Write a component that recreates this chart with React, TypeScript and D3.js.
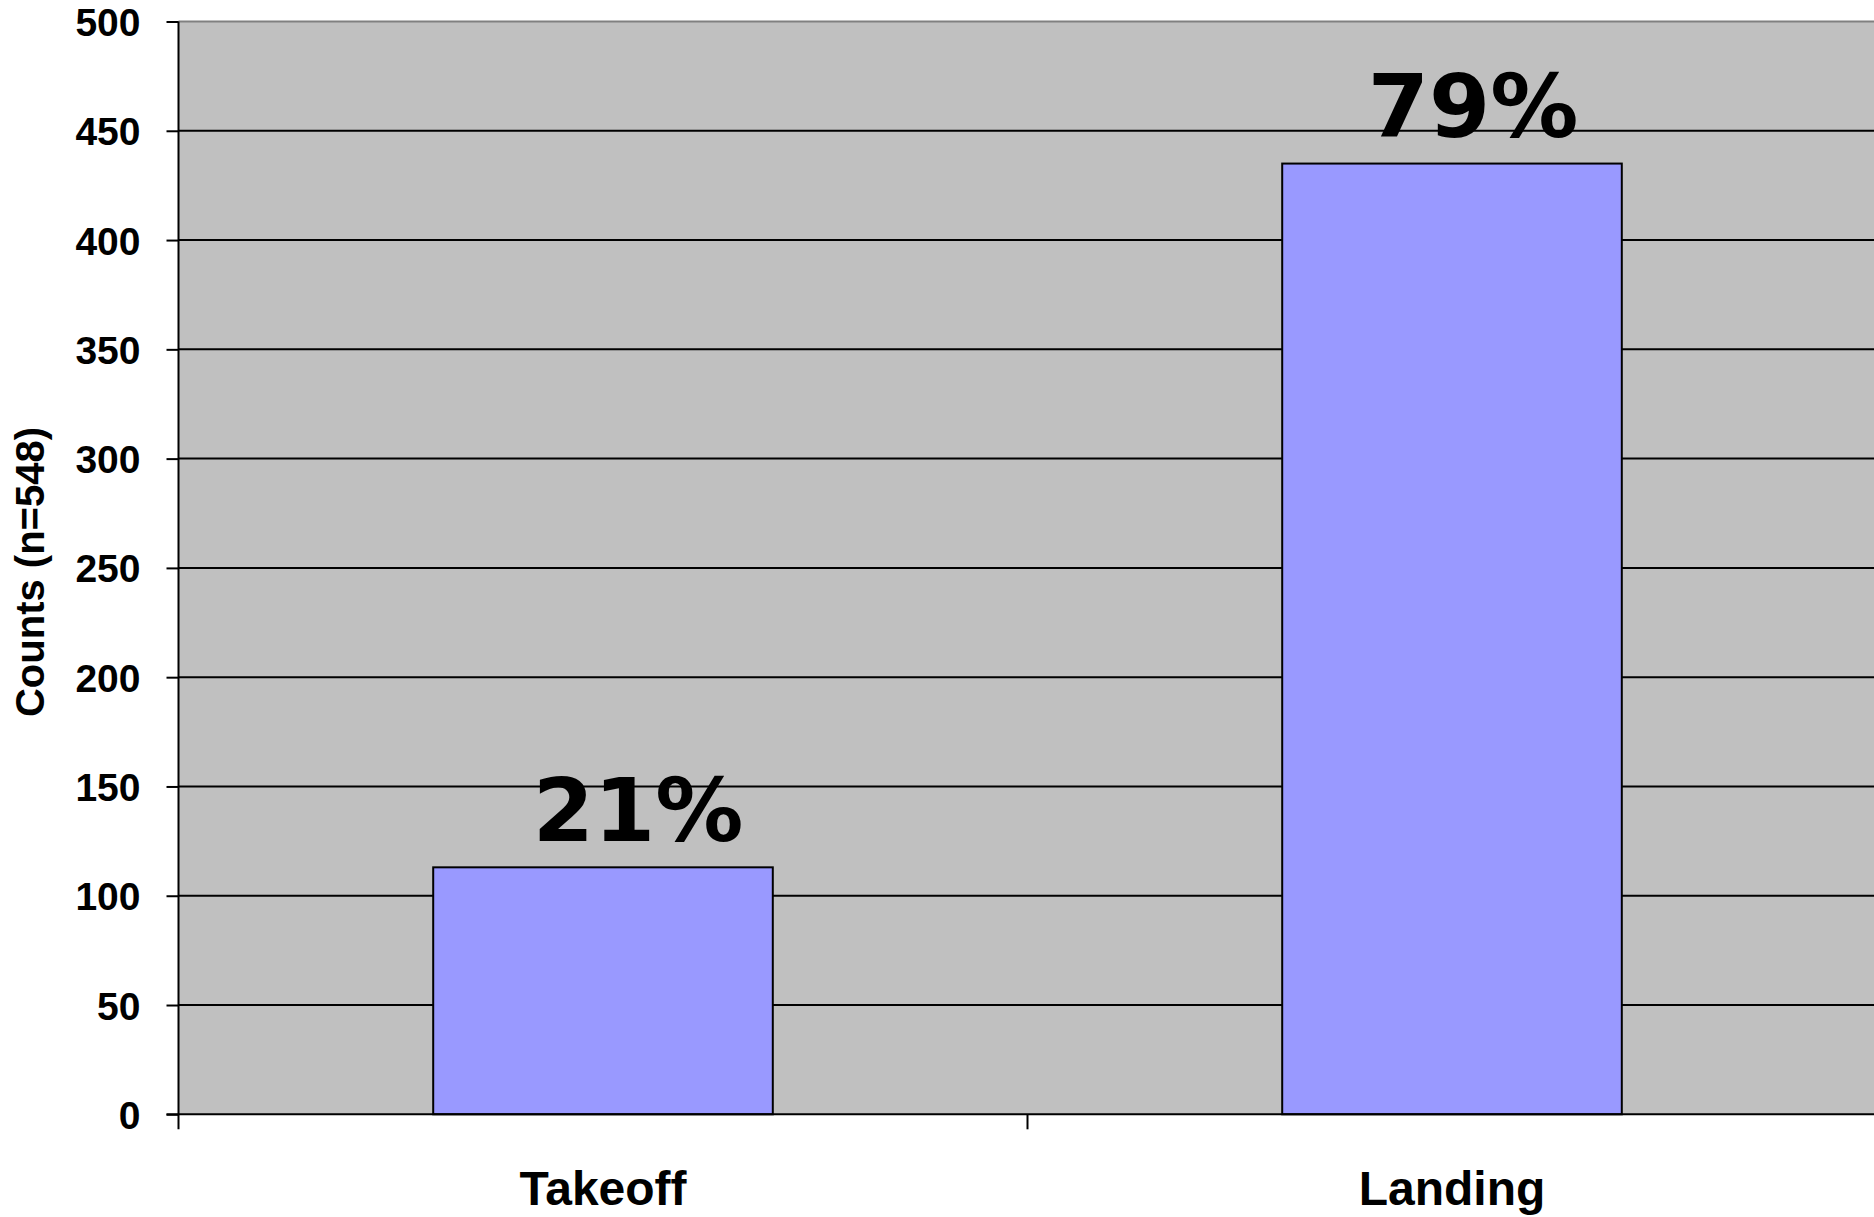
import { useEffect, useRef } from 'react';
import * as d3 from 'd3';

const categories = ['Takeoff', 'Landing'];
const counts = [113, 435];
const percentLabels = ['21%', '79%'];
const yTicks = [0, 50, 100, 150, 200, 250, 300, 350, 400, 450, 500];
const yTitle = 'Counts (n=548)';

const App = () => {
  const svgRef = useRef<SVGSVGElement | null>(null);

  const width = 1874;
  const height = 1217;
  const marginTop = 21.5;
  const marginLeft = 178.5;
  const plotBottom = 1114.3;
  const bandWidth = 849;

  useEffect(() => {
    const svgElement = svgRef.current;
    if (!svgElement) return;

    const svg = d3.select(svgElement);
    svg.selectAll('*').remove();

    const x = d3.scaleBand<string>()
      .domain(categories)
      .range([marginLeft, marginLeft + bandWidth * categories.length])
      .paddingInner(0.6)
      .paddingOuter(0.3);

    const y = d3.scaleLinear().domain([0, 500]).range([plotBottom, marginTop]);
    const plotRight = marginLeft + bandWidth * categories.length;

    // plot background
    svg.append('rect')
      .attr('x', marginLeft)
      .attr('y', marginTop)
      .attr('width', plotRight - marginLeft)
      .attr('height', plotBottom - marginTop)
      .attr('fill', '#c0c0c0');

    // top border
    svg.append('line')
      .attr('x1', marginLeft).attr('x2', plotRight)
      .attr('y1', marginTop).attr('y2', marginTop)
      .attr('stroke', '#808080').attr('stroke-width', 2);

    // gridlines
    svg.append('g')
      .selectAll('line')
      .data(yTicks.filter(d => d > 0 && d < 500))
      .join('line')
      .attr('x1', marginLeft).attr('x2', plotRight)
      .attr('y1', d => y(d)).attr('y2', d => y(d))
      .attr('stroke', '#000').attr('stroke-width', 2);

    // bars
    svg.append('g')
      .selectAll('rect')
      .data(categories)
      .join('rect')
      .attr('x', d => x(d) ?? 0)
      .attr('y', (_, i) => y(counts[i]))
      .attr('width', x.bandwidth())
      .attr('height', (_, i) => plotBottom - y(counts[i]))
      .attr('fill', '#9999ff')
      .attr('stroke', '#000')
      .attr('stroke-width', 2);

    // percent labels
    const labelDx = [35, 21];
    svg.append('g')
      .selectAll('text')
      .data(percentLabels)
      .join('text')
      .attr('x', (_, i) => (x(categories[i]) ?? 0) + x.bandwidth() / 2 + labelDx[i])
      .attr('y', (_, i) => y(counts[i]) - 26.5)
      .attr('text-anchor', 'middle')
      .attr('font-family', "Verdana, 'DejaVu Sans', sans-serif")
      .attr('font-weight', 'bold')
      .attr('font-size', 88)
      .attr('fill', '#000')
      .text(d => d);

    // y axis
    const yAxis = svg.append('g')
      .attr('transform', `translate(${marginLeft},0)`)
      .call(d3.axisLeft(y).tickValues(yTicks).tickSize(12).tickPadding(26).tickFormat(d3.format('d')));
    yAxis.select('.domain').remove();
    yAxis.selectAll('line').attr('stroke', '#000').attr('stroke-width', 2);
    yAxis.selectAll('text')
      .attr('font-family', "Arial, 'Liberation Sans', sans-serif")
      .attr('font-weight', 'bold')
      .attr('font-size', 39)
      .attr('fill', '#000')
      .attr('dy', '0.36em');

    svg.append('line')
      .attr('x1', marginLeft).attr('x2', marginLeft)
      .attr('y1', marginTop).attr('y2', plotBottom + 15)
      .attr('stroke', '#000').attr('stroke-width', 2);

    // x axis
    svg.append('line')
      .attr('x1', marginLeft - 12).attr('x2', plotRight)
      .attr('y1', plotBottom).attr('y2', plotBottom)
      .attr('stroke', '#000').attr('stroke-width', 2);

    svg.append('g')
      .selectAll('line')
      .data(d3.range(1, categories.length))
      .join('line')
      .attr('x1', i => marginLeft + bandWidth * i)
      .attr('x2', i => marginLeft + bandWidth * i)
      .attr('y1', plotBottom).attr('y2', plotBottom + 15)
      .attr('stroke', '#000').attr('stroke-width', 2);

    svg.append('g')
      .selectAll('text')
      .data(categories)
      .join('text')
      .attr('x', d => (x(d) ?? 0) + x.bandwidth() / 2)
      .attr('y', 1205)
      .attr('text-anchor', 'middle')
      .attr('font-family', "Arial, 'Liberation Sans', sans-serif")
      .attr('font-weight', 'bold')
      .attr('font-size', 48)
      .attr('fill', '#000')
      .text(d => d);

    // y title
    svg.append('text')
      .attr('transform', `translate(44,572) rotate(-90)`)
      .attr('text-anchor', 'middle')
      .attr('font-family', "Arial, 'Liberation Sans', sans-serif")
      .attr('font-weight', 'bold')
      .attr('font-size', 40)
      .attr('fill', '#000')
      .text(yTitle);
  }, []);

  return (
    <svg
      ref={svgRef}
      width={width}
      height={height}
      style={{ position: 'absolute', left: 0, top: 0, display: 'block', background: '#fff' }}
    />
  );
};

export default App;
